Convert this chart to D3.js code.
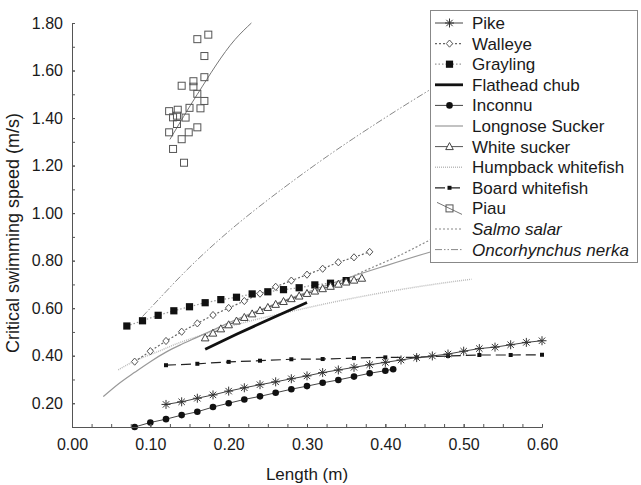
<!DOCTYPE html>
<html><head><meta charset="utf-8">
<script src="https://cdn.jsdelivr.net/npm/d3@7"></script>
<style>
body{margin:0;background:#fff}
text{font-family:Arial,"Liberation Sans",sans-serif;fill:#1a1a1a}
</style>
</head><body>
<svg id="c" width="641" height="485"></svg>
<script>
// ---------- data ----------
const legendNames = ["Pike","Walleye","Grayling","Flathead chub","Inconnu","Longnose Sucker","White sucker","Humpback whitefish","Board whitefish","Piau","Salmo salar","Oncorhynchus nerka"];
const xTickLabels = [0,0.1,0.2,0.3,0.4,0.5,0.6];
const yTickLabels = [0.2,0.4,0.6,0.8,1.0,1.2,1.4,1.6,1.8];

const pikeX = [0.12,0.14,0.16,0.18,0.20,0.22,0.24,0.26,0.28,0.30,0.32,0.34,0.36,0.38,0.40,0.42,0.44,0.46,0.48,0.50,0.52,0.54,0.56,0.58,0.60];
const pikeY = [0.195,0.206,0.221,0.235,0.251,0.265,0.278,0.290,0.303,0.315,0.329,0.340,0.351,0.362,0.372,0.382,0.392,0.399,0.407,0.419,0.430,0.436,0.446,0.456,0.463];

const walleyeX = [0.08,0.10,0.12,0.14,0.16,0.18,0.20,0.22,0.24,0.26,0.28,0.30,0.32,0.34,0.36,0.38];
const walleyeY = [0.375,0.419,0.462,0.501,0.536,0.571,0.601,0.630,0.661,0.690,0.716,0.741,0.766,0.793,0.814,0.837];

const graylingX = [0.07,0.09,0.11,0.13,0.15,0.17,0.19,0.21,0.23,0.25,0.27,0.29,0.31,0.33,0.35];
const graylingY = [0.525,0.547,0.570,0.589,0.606,0.623,0.636,0.646,0.660,0.669,0.678,0.686,0.698,0.705,0.716];

const flatheadX = [0.17,0.21,0.245,0.27,0.30];
const flatheadY = [0.427,0.490,0.543,0.580,0.624];

const inconnuX = [0.08,0.10,0.12,0.14,0.16,0.18,0.20,0.22,0.24,0.26,0.28,0.30,0.32,0.34,0.36,0.38,0.40,0.41];
const inconnuY = [0.100,0.119,0.133,0.150,0.164,0.184,0.200,0.216,0.229,0.244,0.259,0.272,0.286,0.298,0.312,0.326,0.337,0.343];

const longnoseX = [0.04,0.06,0.08,0.10,0.12,0.14,0.16,0.18,0.20,0.25,0.30,0.35,0.40,0.45,0.50,0.55];
const longnoseY = [0.228,0.283,0.330,0.375,0.415,0.448,0.478,0.508,0.538,0.606,0.667,0.725,0.778,0.829,0.876,0.922];

const whiteSuckerX = [0.17,0.18,0.19,0.20,0.21,0.22,0.23,0.24,0.25,0.26,0.27,0.28,0.29,0.30,0.31,0.32,0.33,0.34,0.35,0.36,0.37];
const whiteSuckerY = [0.475,0.495,0.513,0.530,0.546,0.561,0.576,0.590,0.603,0.616,0.628,0.640,0.651,0.662,0.672,0.682,0.692,0.701,0.710,0.718,0.726];

const humpbackX = [0.059,0.08,0.108,0.135,0.1635,0.22,0.278,0.33,0.381,0.457,0.51];
const humpbackY = [0.340,0.378,0.415,0.452,0.484,0.540,0.585,0.623,0.656,0.698,0.722];

const boardX = [0.12,0.16,0.20,0.24,0.28,0.32,0.36,0.40,0.44,0.48,0.52,0.56,0.60];
const boardY = [0.360,0.366,0.374,0.379,0.385,0.386,0.390,0.393,0.393,0.399,0.403,0.403,0.404];

const piauX = [0.160,0.174,0.169,0.169,0.155,0.140,0.155,0.160,0.169,0.150,0.164,0.124,0.135,0.129,0.134,0.145,0.134,0.124,0.149,0.160,0.140,0.129,0.143];
const piauY = [1.732,1.751,1.661,1.572,1.555,1.536,1.532,1.502,1.472,1.443,1.441,1.429,1.435,1.403,1.410,1.402,1.375,1.340,1.340,1.361,1.311,1.270,1.212];
const piauFitX = [0.125,0.160,0.208,0.229];
const piauFitY = [1.31,1.50,1.73,1.80];

const salmoX = [0.25,0.30,0.34,0.372,0.42,0.457,0.52];
const salmoY = [0.600,0.662,0.708,0.755,0.825,0.887,0.990];

const oncoX = [0.09,0.12,0.15,0.206,0.283,0.355,0.455,0.52];
const oncoY = [0.565,0.670,0.775,0.945,1.140,1.308,1.518,1.640];

// ---------- setup ----------
const svg = d3.select("#c");
const x = d3.scaleLinear().domain([0,0.6]).range([72,542]);
const y = d3.scaleLinear().domain([0.1,1.8]).range([427,23]);
const zip = (xs,ys) => xs.map((v,i)=>[v,ys[i]]);

const styles = {
  "Pike":{stroke:"#444",w:1,dash:null,marker:"asterisk"},
  "Walleye":{stroke:"#666",w:1.2,dash:"2,2",marker:"diamond"},
  "Grayling":{stroke:"#999",w:1.2,dash:"1.5,2",marker:"fsquare"},
  "Flathead chub":{stroke:"#111",w:2.8,dash:null,marker:null},
  "Inconnu":{stroke:"#444",w:1,dash:null,marker:"circle"},
  "Longnose Sucker":{stroke:"#999",w:1.2,dash:null,marker:null},
  "White sucker":{stroke:"#555",w:1,dash:null,marker:"triangle"},
  "Humpback whitefish":{stroke:"#bbb",w:1.5,dash:"1,1",marker:null},
  "Board whitefish":{stroke:"#222",w:1.2,dash:"10,5",marker:"ssquare"},
  "Piau":{stroke:"#777",w:1,dash:null,marker:"osquare"},
  "Salmo salar":{stroke:"#888",w:1.2,dash:"2,2",marker:null},
  "Oncorhynchus nerka":{stroke:"#888",w:1,dash:"7,2,1.5,2,1.5,2",marker:null}
};

function drawMarker(g, type, cx, cy){
  if(type==="asterisk"){
    const p = `M${cx-4.5},${cy}H${cx+4.5}M${cx},${cy-4.5}V${cy+4.5}M${cx-3.2},${cy-3.2}L${cx+3.2},${cy+3.2}M${cx-3.2},${cy+3.2}L${cx+3.2},${cy-3.2}`;
    g.append("path").attr("d",p).attr("stroke","#333").attr("stroke-width",1).attr("fill","none");
  } else if(type==="diamond"){
    g.append("path").attr("d",`M${cx},${cy-3.6}L${cx+3.2},${cy}L${cx},${cy+3.6}L${cx-3.2},${cy}Z`)
     .attr("fill","#fff").attr("stroke","#555").attr("stroke-width",1);
  } else if(type==="fsquare"){
    g.append("rect").attr("x",cx-3.6).attr("y",cy-3.6).attr("width",7.2).attr("height",7.2).attr("fill","#111");
  } else if(type==="circle"){
    g.append("circle").attr("cx",cx).attr("cy",cy).attr("r",3.3).attr("fill","#111");
  } else if(type==="triangle"){
    g.append("path").attr("d",`M${cx},${cy-4}L${cx+3.8},${cy+3}L${cx-3.8},${cy+3}Z`)
     .attr("fill","#fff").attr("stroke","#444").attr("stroke-width",1);
  } else if(type==="ssquare"){
    g.append("rect").attr("x",cx-2).attr("y",cy-2).attr("width",4).attr("height",4).attr("fill","#111");
  } else if(type==="osquare"){
    g.append("rect").attr("x",cx-3.5).attr("y",cy-3.5).attr("width",7).attr("height",7)
     .attr("fill","none").attr("stroke","#555").attr("stroke-width",1);
  }
}

const plot = svg.append("g");
function drawLine(name, pts, curve){
  const s = styles[name];
  const gen = d3.line().x(d=>x(d[0])).y(d=>y(d[1])).curve(curve||d3.curveLinear);
  plot.append("path").attr("d",gen(pts)).attr("fill","none")
    .attr("stroke",s.stroke).attr("stroke-width",s.w)
    .attr("stroke-dasharray",s.dash);
}
function drawMarkers(name, pts){
  const g = plot.append("g");
  pts.forEach(d=>drawMarker(g, styles[name].marker, x(d[0]), y(d[1])));
}

// lines
drawLine("Oncorhynchus nerka", zip(oncoX,oncoY), d3.curveBasis);
drawLine("Salmo salar", zip(salmoX,salmoY), d3.curveMonotoneX);
drawLine("Humpback whitefish", zip(humpbackX,humpbackY), d3.curveMonotoneX);
drawLine("Longnose Sucker", zip(longnoseX,longnoseY), d3.curveMonotoneX);
drawLine("Piau", zip(piauFitX,piauFitY), d3.curveMonotoneX);
drawLine("Board whitefish", zip(boardX,boardY));
drawLine("Grayling", zip(graylingX,graylingY));
drawLine("Walleye", zip(walleyeX,walleyeY));
drawLine("White sucker", zip(whiteSuckerX,whiteSuckerY));
drawLine("Flathead chub", zip(flatheadX,flatheadY), d3.curveMonotoneX);
drawLine("Pike", zip(pikeX,pikeY));
drawLine("Inconnu", zip(inconnuX,inconnuY));

// markers
drawMarkers("Piau", zip(piauX,piauY));
drawMarkers("Board whitefish", zip(boardX,boardY));
drawMarkers("Grayling", zip(graylingX,graylingY));
drawMarkers("Walleye", zip(walleyeX,walleyeY));
drawMarkers("White sucker", zip(whiteSuckerX,whiteSuckerY));
drawMarkers("Pike", zip(pikeX,pikeY));
drawMarkers("Inconnu", zip(inconnuX,inconnuY));

// ---------- axes ----------
const axisColor = "#555";
const xMinor = d3.range(0,0.6001,0.025);
const yMinor = d3.range(0.1,1.8001,0.1);

const gxm = svg.append("g").attr("transform","translate(0,427)")
  .call(d3.axisBottom(x).tickValues(xMinor).tickSize(-3).tickSizeOuter(0).tickFormat(""));
const gx = svg.append("g").attr("transform","translate(0,427)")
  .call(d3.axisBottom(x).tickValues(xTickLabels).tickSize(-3).tickSizeOuter(0).tickPadding(12).tickFormat(d3.format(".2f")));
const gym = svg.append("g").attr("transform","translate(72,0)")
  .call(d3.axisLeft(y).tickValues(yMinor).tickSize(-3).tickSizeOuter(0).tickFormat(""));
const gy = svg.append("g").attr("transform","translate(72,0)")
  .call(d3.axisLeft(y).tickValues(yTickLabels).tickSize(-3).tickSizeOuter(0).tickPadding(9).tickFormat(d3.format(".2f")));
[gxm,gx,gym,gy].forEach(g=>{
  g.selectAll("path,line").attr("stroke",axisColor);
  g.selectAll("text").attr("font-size",16).attr("fill","#333").attr("font-family","Arial,'Liberation Sans',sans-serif");
});

svg.append("text").attr("x",307).attr("y",480).attr("text-anchor","middle")
  .attr("font-size",17).text("Length (m)");
svg.append("text").attr("transform","translate(19,233) rotate(-90)").attr("text-anchor","middle")
  .attr("font-size",18).text("Critical swimming speed (m/s)");

// ---------- legend ----------
const lg = svg.append("g");
lg.append("rect").attr("x",430.5).attr("y",10.5).attr("width",207).attr("height",252)
  .attr("fill","#fff").attr("stroke","#888").attr("stroke-width",1);
legendNames.forEach((name,i)=>{
  const cy = 23 + i*20.6;
  const s = styles[name];
  if(name==="Piau"){
    lg.append("line").attr("x1",437).attr("y1",cy-6).attr("x2",462).attr("y2",cy+6)
      .attr("stroke",s.stroke).attr("stroke-width",1);
  } else {
    lg.append("line").attr("x1",435).attr("y1",cy).attr("x2",463).attr("y2",cy)
      .attr("stroke",s.stroke).attr("stroke-width",s.w).attr("stroke-dasharray",s.dash);
  }
  if(s.marker) drawMarker(lg, s.marker, 449.5, cy);
  const italic = (name==="Salmo salar"||name==="Oncorhynchus nerka");
  lg.append("text").attr("x",472).attr("y",cy).attr("dy","0.35em")
    .attr("font-size",17).attr("font-style",italic?"italic":"normal").text(name);
});
</script>
</body></html>
